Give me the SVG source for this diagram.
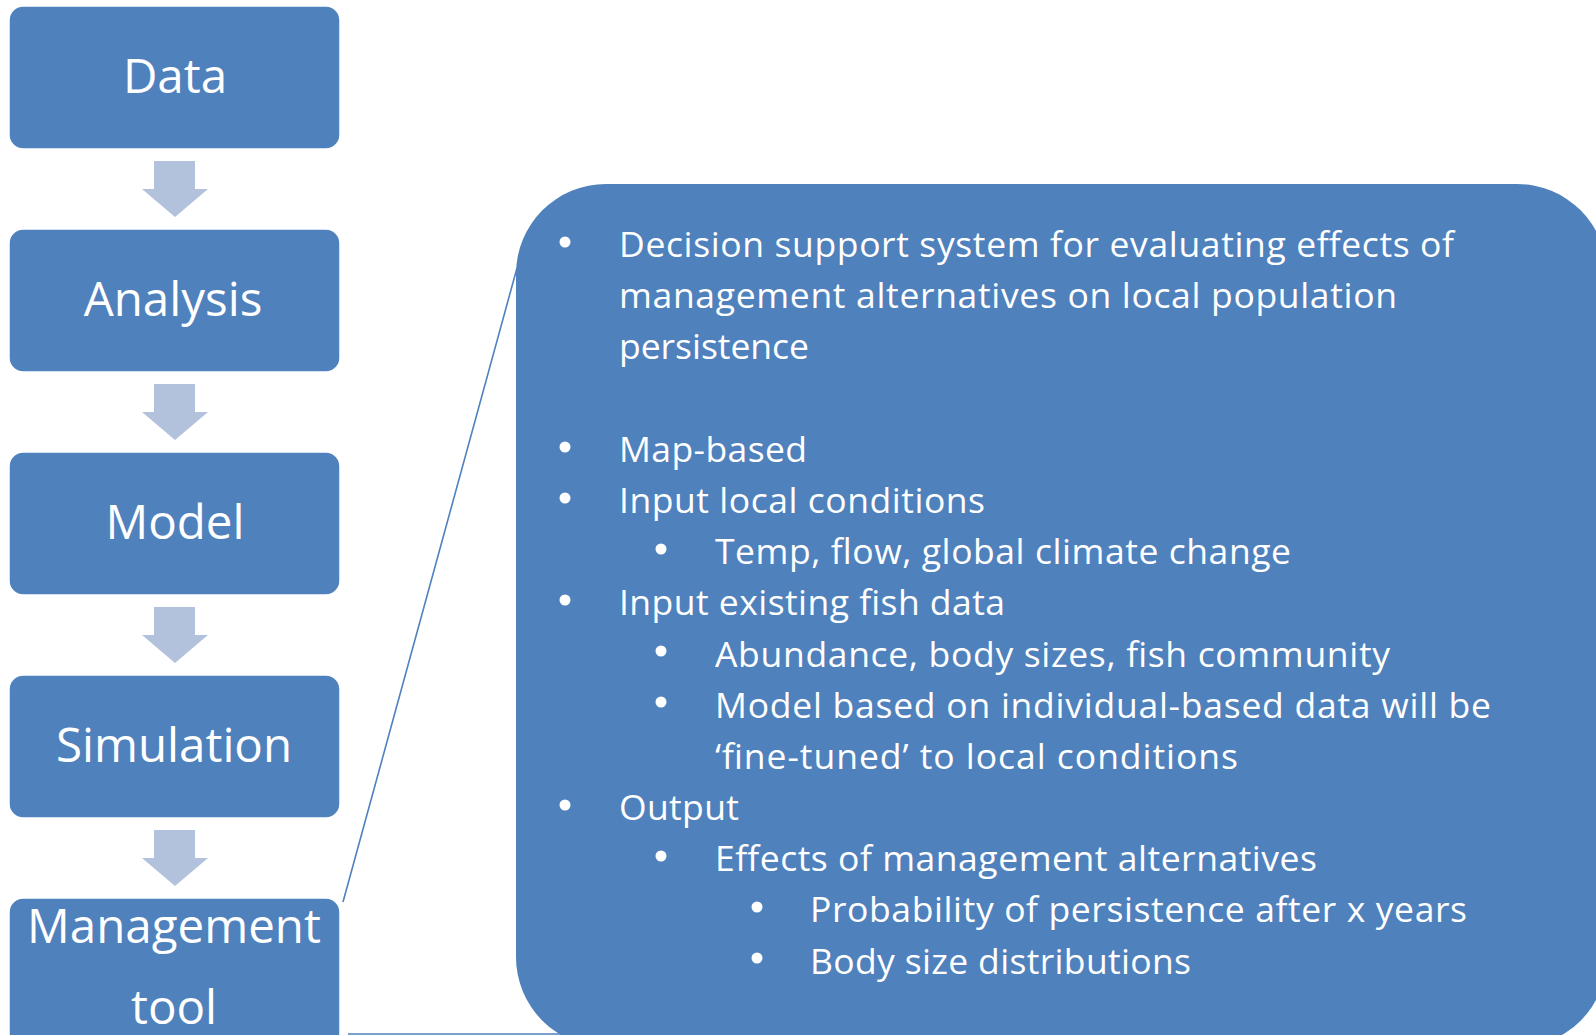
<svg xmlns="http://www.w3.org/2000/svg" width="1596" height="1035" viewBox="0 0 1596 1035">
<defs>
<style>
.box{fill:#4F81BD;stroke:#ffffff;stroke-width:1.5}
.arr{fill:#B3C2DC}
.lbl{font-family:"Open Sans","Liberation Sans",sans-serif;font-size:47.5px;fill:#ffffff;text-anchor:middle}
.t{font-family:"Open Sans","Liberation Sans",sans-serif;font-size:35.5px;fill:#ffffff}
.b{fill:#ffffff}
.conn{stroke:#4F81BD;stroke-width:1.6;fill:none}
</style>
<path id="arrow" d="M154,161 H195 V189 H208 L175,217 L142,189 H154 Z"/>
</defs>
<rect width="1596" height="1035" fill="#ffffff"/>
<g id="node-data"><rect class="box" x="9" y="6" width="331" height="143" rx="14"/><text class="lbl" x="175" y="93">Data</text></g>
<g id="node-analysis"><rect class="box" x="9" y="229" width="331" height="143" rx="14"/><text class="lbl" x="173" y="316">Analysis</text></g>
<g id="node-model"><rect class="box" x="9" y="452" width="331" height="143" rx="14"/><text class="lbl" x="175" y="539">Model</text></g>
<g id="node-simulation"><rect class="box" x="9" y="675" width="331" height="143" rx="14"/><text class="lbl" x="174" y="762">Simulation</text></g>
<g id="node-management"><rect class="box" x="9" y="898" width="331" height="160" rx="14"/><text class="lbl" x="174" y="943">Management</text><text class="lbl" x="174" y="1024">tool</text></g>
<g id="arrows">
<use href="#arrow" class="arr"/>
<use href="#arrow" class="arr" y="223"/>
<use href="#arrow" class="arr" y="446"/>
<use href="#arrow" class="arr" y="669"/>
</g>
<g id="node-details">
<rect x="516" y="184" width="1091" height="863" rx="90" fill="#4F81BD"/>
<g class="b">
<circle cx="565" cy="242" r="5.5"/>
<circle cx="565" cy="447" r="5.5"/>
<circle cx="565" cy="498" r="5.5"/>
<circle cx="661" cy="549" r="5.5"/>
<circle cx="565" cy="600" r="5.5"/>
<circle cx="661" cy="651" r="5.5"/>
<circle cx="661" cy="702" r="5.5"/>
<circle cx="565" cy="805" r="5.5"/>
<circle cx="661" cy="856" r="5.5"/>
<circle cx="757" cy="907" r="5.5"/>
<circle cx="757" cy="958" r="5.5"/>
</g>
<text class="t" x="619" y="257" textLength="835" lengthAdjust="spacing">Decision support system for evaluating effects of</text>
<text class="t" x="619" y="308" textLength="778" lengthAdjust="spacing">management alternatives on local population</text>
<text class="t" x="619" y="359" textLength="190" lengthAdjust="spacing">persistence</text>
<text class="t" x="619" y="462" textLength="188" lengthAdjust="spacing">Map-based</text>
<text class="t" x="619" y="513" textLength="366" lengthAdjust="spacing">Input local conditions</text>
<text class="t" x="715" y="564" textLength="576" lengthAdjust="spacing">Temp, flow, global climate change</text>
<text class="t" x="619" y="615" textLength="386" lengthAdjust="spacing">Input existing fish data</text>
<text class="t" x="715" y="667" textLength="675" lengthAdjust="spacing">Abundance, body sizes, fish community</text>
<text class="t" x="715" y="718" textLength="776" lengthAdjust="spacing">Model based on individual-based data will be</text>
<text class="t" x="715" y="769" textLength="523" lengthAdjust="spacing">‘fine-tuned’ to local conditions</text>
<text class="t" x="619" y="820" textLength="120" lengthAdjust="spacing">Output</text>
<text class="t" x="715" y="871" textLength="602" lengthAdjust="spacing">Effects of management alternatives</text>
<text class="t" x="810" y="922" textLength="657" lengthAdjust="spacing">Probability of persistence after x years</text>
<text class="t" x="810" y="974" textLength="381" lengthAdjust="spacing">Body size distributions</text>
</g>
<g id="connectors">
<line class="conn" x1="343" y1="902" x2="517" y2="268"/>
<line class="conn" x1="348" y1="1034" x2="572" y2="1034"/>
</g>
</svg>
